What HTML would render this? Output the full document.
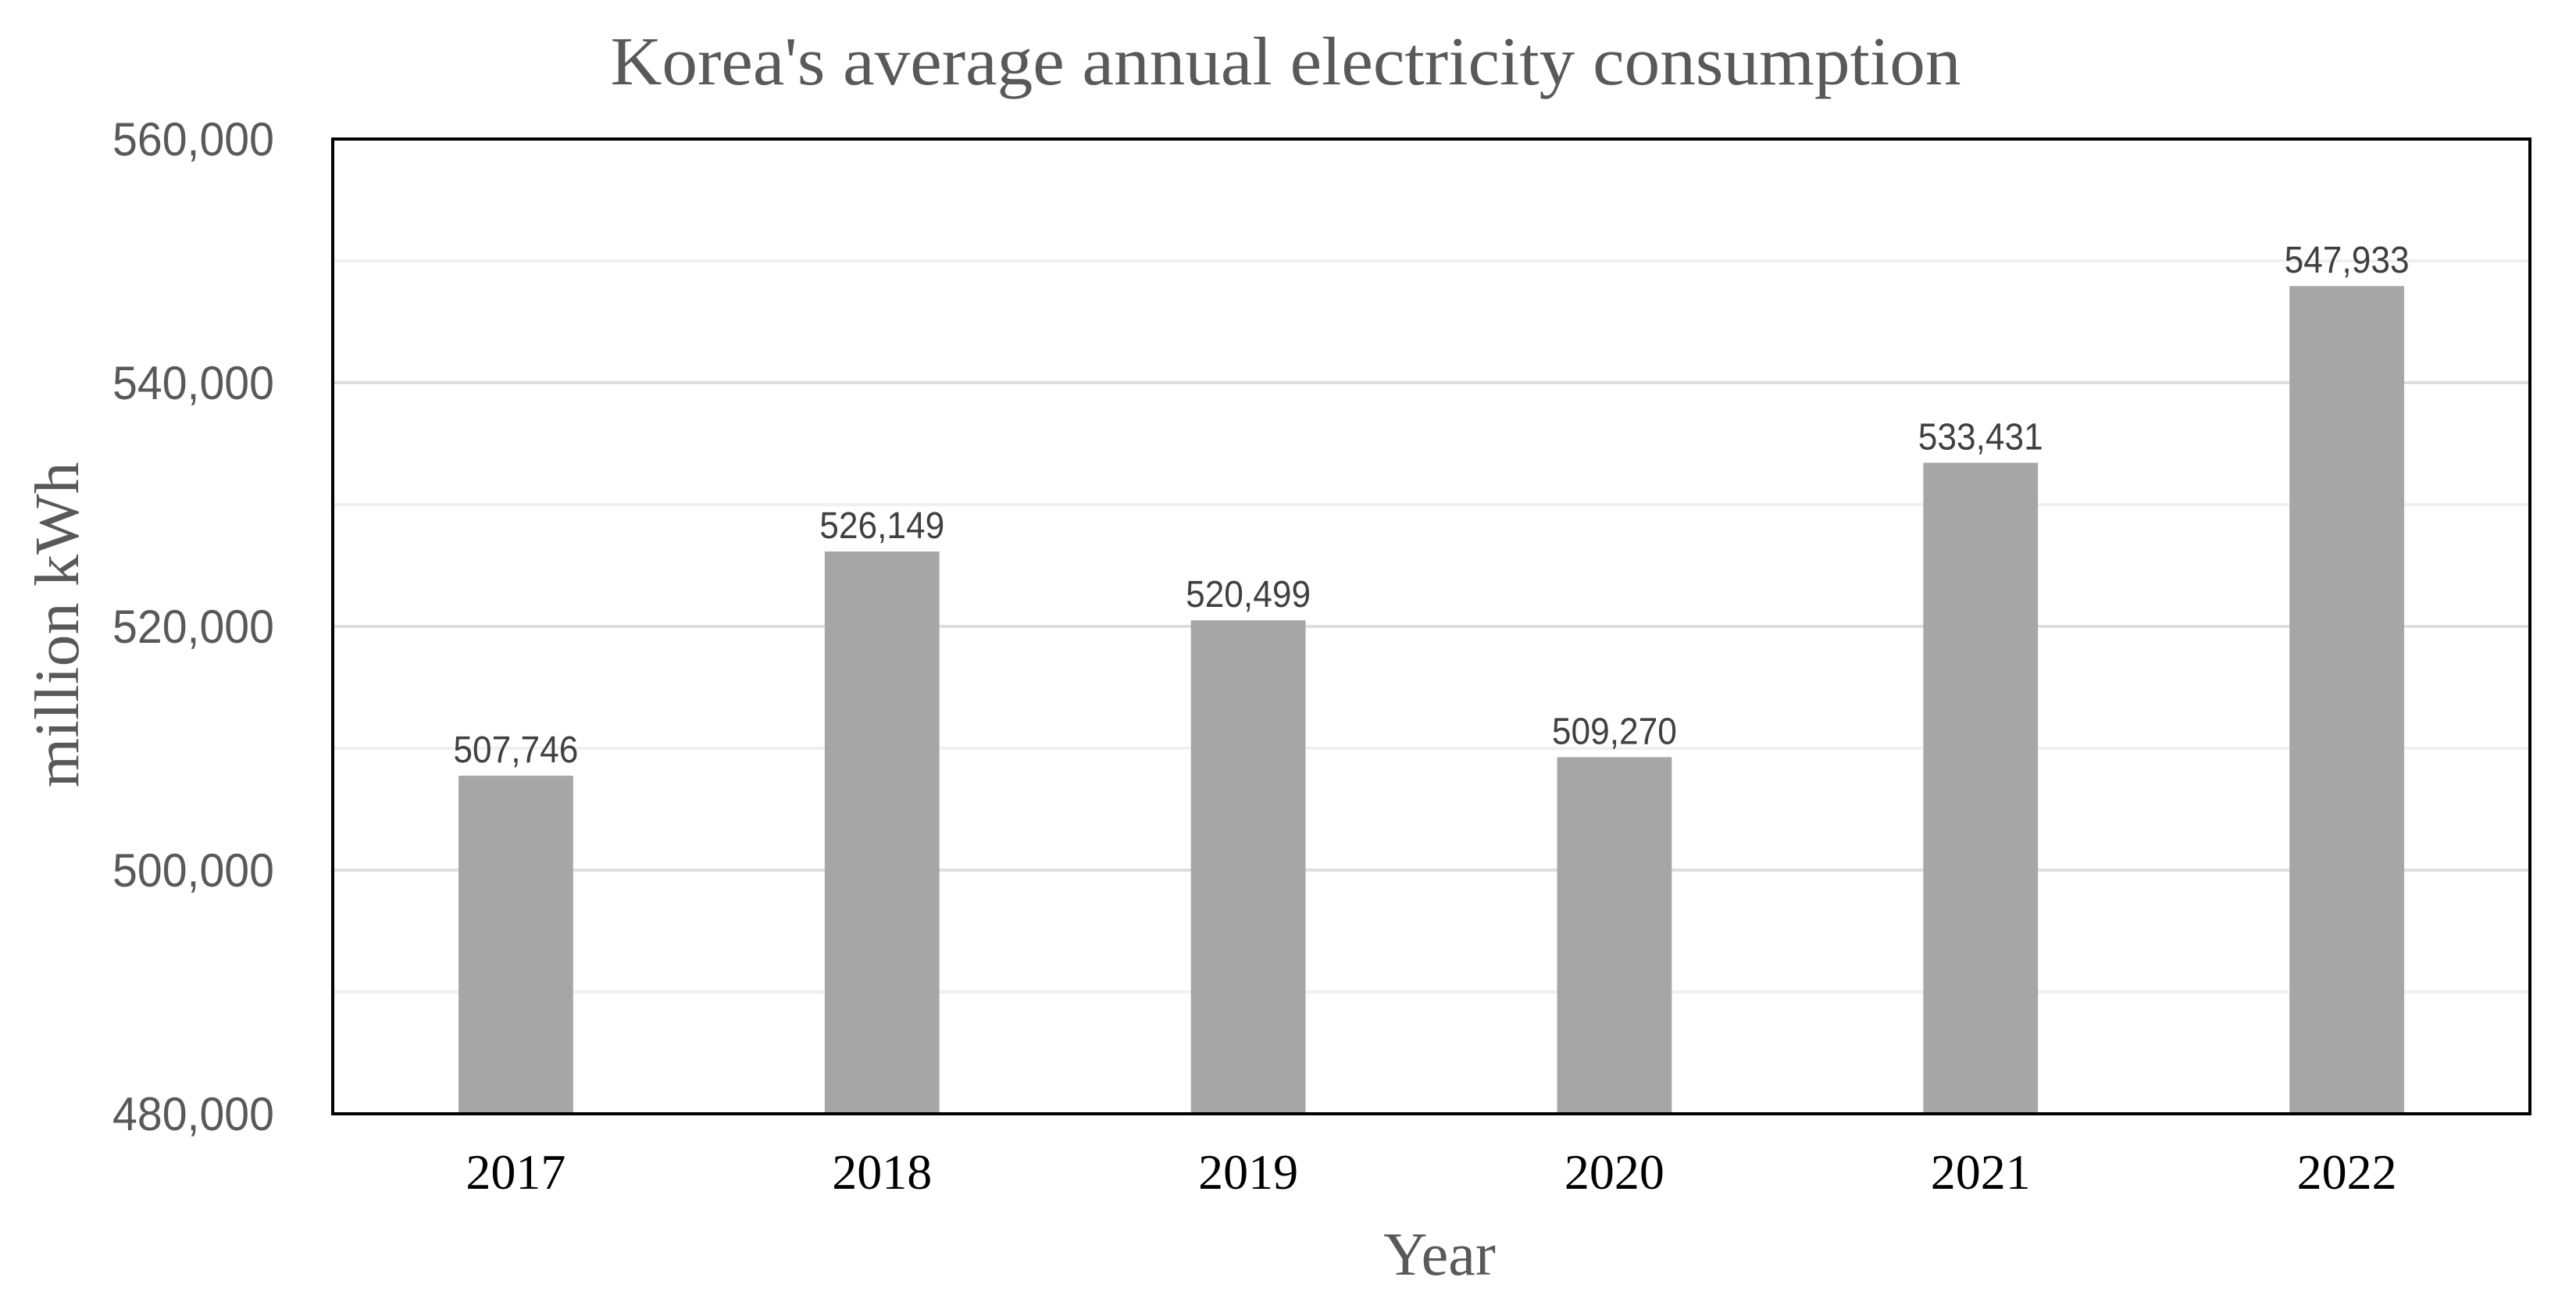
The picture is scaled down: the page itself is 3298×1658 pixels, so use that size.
<!DOCTYPE html>
<html><head><meta charset="utf-8"><style>
html,body{margin:0;padding:0;background:#fff;}
svg{display:block;}
</style></head><body>
<svg id="chart" width="3298" height="1658" viewBox="0 0 3298 1658" xmlns="http://www.w3.org/2000/svg">
<text x="1646" y="108" text-anchor="middle" font-family="Liberation Serif, serif" font-size="88" fill="#595959" textLength="1729" lengthAdjust="spacingAndGlyphs">Korea's average annual electricity consumption</text>
<text transform="translate(100,800) rotate(-90)" text-anchor="middle" font-family="Liberation Serif, serif" font-size="80" fill="#595959" textLength="417" lengthAdjust="spacingAndGlyphs">million kWh</text>
<text x="1843" y="1632" text-anchor="middle" font-family="Liberation Serif, serif" font-size="78" fill="#595959">Year</text>
<g id="grid"></g>
<g id="bars"></g>
<g id="labels"></g>
<rect x="426" y="178" width="2813" height="1248" fill="none" stroke="#000" stroke-width="4"/>
</svg>
<script>
const categories = ["2017","2018","2019","2020","2021","2022"];
const values = [507746, 526149, 520499, 509270, 533431, 547933];
const valueLabels = ["507,746","526,149","520,499","509,270","533,431","547,933"];
const yTicks = [480000, 500000, 520000, 540000, 560000];
const yTickLabels = ["480,000","500,000","520,000","540,000","560,000"];
const yMinor = [490000, 510000, 530000, 550000];

const NS = "http://www.w3.org/2000/svg";
const L = 426, R = 3239, T = 178, B = 1426;
const yMin = 480000, yMax = 560000;
function yScale(v){ return B - (v - yMin) / (yMax - yMin) * (B - T); }
const band = (R - L) / categories.length;
function xCenter(i){ return L + band * (i + 0.5); }
const barW = band * 0.313;

function mk(tag, attrs, parent){
  const e = document.createElementNS(NS, tag);
  for (const k in attrs) e.setAttribute(k, attrs[k]);
  parent.appendChild(e);
  return e;
}
const grid = document.getElementById('grid');
const bars = document.getElementById('bars');
const labels = document.getElementById('labels');

yMinor.forEach(v => {
  const l = mk('line', {x1:L, x2:R, y1:yScale(v), y2:yScale(v), stroke:'#f0f0f0', 'stroke-width':4}, grid);
  
  
});
yTicks.forEach((v, i) => {
  const l = mk('line', {x1:L, x2:R, y1:yScale(v), y2:yScale(v), stroke:'#dedede', 'stroke-width':4}, grid);
  
  
  const t = mk('text', {x:351, y:yScale(v) + 21, 'text-anchor':'end', 'font-family':'Liberation Sans, sans-serif', 'font-size':60, fill:'#595959', textLength:207, lengthAdjust:'spacingAndGlyphs'}, labels);
  t.textContent = yTickLabels[i];
  
  
});
categories.forEach((c, i) => {
  const cx = xCenter(i);
  const y = yScale(values[i]);
  const r = mk('rect', {x:cx - barW/2, y:y, width:barW, height:B - y, fill:'#a6a6a6'}, bars);
  
  
  const vt = mk('text', {x:cx, y:y - 17, 'text-anchor':'middle', 'font-family':'Liberation Sans, sans-serif', 'font-size':48, fill:'#404040', textLength:160, lengthAdjust:'spacingAndGlyphs'}, labels);
  vt.textContent = valueLabels[i];
  
  
  const xt = mk('text', {x:cx, y:1522, 'text-anchor':'middle', 'font-family':'Liberation Serif, serif', 'font-size':64, fill:'#000'}, labels);
  xt.textContent = c;
  
  
});
</script>
</body></html>
